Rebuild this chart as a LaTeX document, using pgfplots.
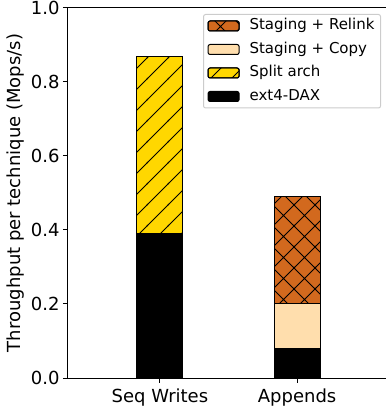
\documentclass[border=0pt]{standalone}
\usepackage{pgfplots}
\pgfplotsset{compat=1.18}
\usepackage{fontspec}
\setmainfont{DejaVu Sans}
\usetikzlibrary{patterns}

\definecolor{gold}{RGB}{255,215,0}
\definecolor{navajo}{RGB}{255,222,173}
\definecolor{choco}{RGB}{210,105,30}

\pgfdeclarepatternformonly{diaglines}{\pgfqpoint{-1bp}{-1bp}}{\pgfqpoint{22bp}{22bp}}{\pgfqpoint{21bp}{21bp}}{%
  \pgfsetlinewidth{0.9bp}%
  \pgfpathmoveto{\pgfqpoint{-1bp}{-1bp}}\pgfpathlineto{\pgfqpoint{22bp}{22bp}}%
  \pgfusepath{stroke}}
\pgfdeclarepatternformonly{bigcross}{\pgfqpoint{-1bp}{-1bp}}{\pgfqpoint{22bp}{22bp}}{\pgfqpoint{21bp}{21bp}}{%
  \pgfsetlinewidth{0.9bp}%
  \pgfpathmoveto{\pgfqpoint{-1bp}{-1bp}}\pgfpathlineto{\pgfqpoint{22bp}{22bp}}%
  \pgfpathmoveto{\pgfqpoint{-1bp}{22bp}}\pgfpathlineto{\pgfqpoint{22bp}{-1bp}}%
  \pgfusepath{stroke}}

\begin{document}
\begin{tikzpicture}
\begin{axis}[
  name=ax,
  width=321bp, height=370bp, scale only axis,
  xmin=-0.67, xmax=1.67, ymin=0, ymax=1,
  ybar stacked, bar width=0.336,
  xtick={0,1}, xticklabels={Seq Writes,Appends},
  ytick={0,0.2,0.4,0.6,0.8,1},
  yticklabel style={/pgf/number format/.cd,fixed,fixed zerofill,precision=1},
  /pgf/number format/assume math mode=true,
  tick align=outside, xtick pos=bottom, ytick pos=left,
  major tick length=5bp,
  tick style={black, line width=1bp},
  axis line style={line width=1bp},
  ticklabel style={font=\fontsize{18bp}{21bp}\selectfont},
  xticklabel style={yshift=-2bp},
  ylabel={Throughput per technique (Mops/s)},
  label style={font=\fontsize{18bp}{21bp}\selectfont},
  reverse legend,
  legend cell align=left,
  legend style={at={(1,1)}, anchor=north east, xshift=-8bp, yshift=-6bp,
    font=\fontsize{15bp}{17bp}\selectfont, draw=black!20, line width=1bp,
    rounded corners=2bp, row sep=4.5bp, column sep=8bp, inner xsep=4bp, inner ysep=2bp,
    nodes={inner sep=2bp, text height=11.5bp, text depth=3.5bp}},
  legend image code/.code={\draw[#1] (0bp,-5bp) rectangle (31bp,5bp);},
]
\addplot[fill=black, draw=black, line width=1bp] coordinates {(0,0.39) (1,0.08)};
\addlegendentry{ext4-DAX}
\addplot[fill=gold, draw=black, line width=1bp, postaction={pattern=diaglines}] coordinates {(0,0.48) (1,0)};
\addlegendentry{Split arch}
\addplot[fill=navajo, draw=black, line width=1bp] coordinates {(0,0) (1,0.12)};
\addlegendentry{Staging + Copy}
\addplot[fill=choco, draw=black, line width=1bp, postaction={pattern=bigcross}] coordinates {(0,0) (1,0.29)};
\addlegendentry{Staging + Relink}
\end{axis}
\pgfresetboundingbox
\path[use as bounding box] ([xshift=-68bp,yshift=-37bp]ax.south west) rectangle ([xshift=-3bp,yshift=8bp]ax.north east);
\end{tikzpicture}
\end{document}
